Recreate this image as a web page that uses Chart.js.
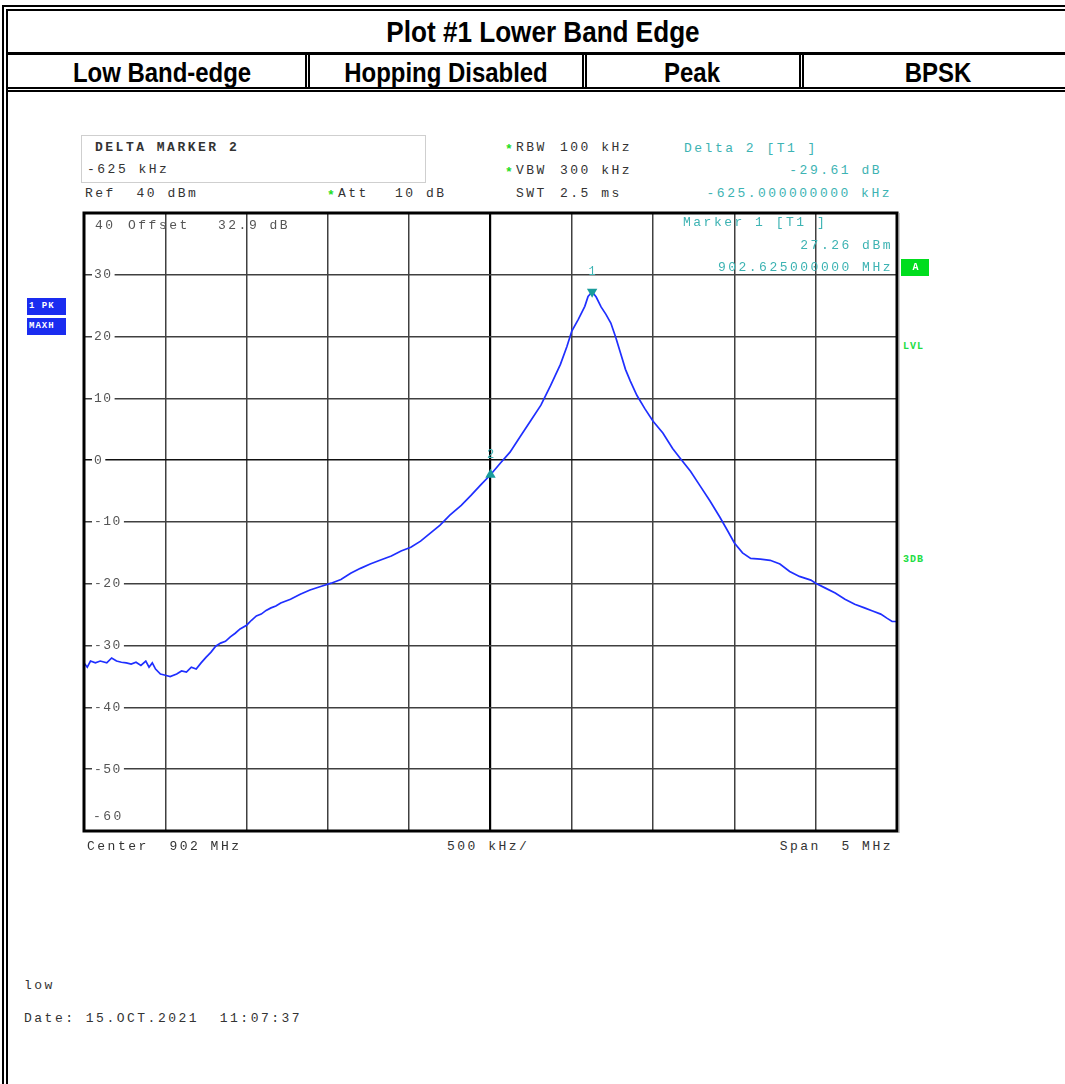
<!DOCTYPE html>
<html lang="en">
<head>
<meta charset="UTF-8" />
<title>Plot #1 Lower Band Edge</title>
<script src="https://cdn.jsdelivr.net/npm/chart.js"></script>
<style>
  * { box-sizing: border-box; }
  body {
    margin: 0;
    width: 1065px;
    height: 1084px;
    overflow: hidden;
    position: relative;
    background: #fff;
    font-family: "Liberation Mono", monospace;
  }
  .frame {
    position: absolute;
    left: 2px;
    top: 5px;
    width: 1100px;
    height: 1100px;
    border-left: 6px double #000;
    border-top: 6px double #000;
  }
  .hline { position: absolute; left: 8px; width: 1070px; }
  .vsep { position: absolute; top: 55px; height: 33px; width: 5px; border-left: 5px double #000; }
  .hd {
    position: absolute;
    font-family: "Liberation Sans", Arial, sans-serif;
    font-weight: bold;
    color: #000;
    text-align: center;
    white-space: nowrap;
    width: 400px;
    transform-origin: center;
  }
  .t {
    position: absolute;
    font-size: 13px;
    line-height: 14px;
    letter-spacing: 2.5px;
    color: #333;
    white-space: pre;
  }
  .b { font-weight: bold; }
  .teal { color: #3db3b3; }
  .star { color: #22dd22; font-weight: bold; }
  .grey { color: #555; }
  .green { color: #22dd44; font-weight: bold; font-size: 10px; letter-spacing: 1px; }
  .tag {
    position: absolute;
    color: #fff;
    font-weight: bold;
    font-size: 9px;
    line-height: 17px;
    letter-spacing: 1px;
    padding-left: 2px;
    white-space: pre;
  }
  .box {
    position: absolute;
    left: 81px;
    top: 135px;
    width: 345px;
    height: 48px;
    border: 1px solid #cfcfcf;
  }
  .plot {
    position: absolute;
    left: 78px;
    top: 207px;
    width: 825px;
    height: 630px;
  }
</style>
</head>
<body>
  <div class="frame"></div>
  <div class="hd" style="left: 343px; top: 12px; font-size: 30px; line-height: 40px; transform: scaleX(0.87)">Plot #1 Lower Band Edge</div>
  <div class="hline" style="top: 52px; height: 3px; background: #000"></div>
  <div class="hd" style="left: -38px; top: 55px; font-size: 28px; line-height: 35px; transform: scaleX(0.855)">Low Band-edge</div>
  <div class="hd" style="left: 246px; top: 55px; font-size: 28px; line-height: 35px; transform: scaleX(0.855)">Hopping Disabled</div>
  <div class="hd" style="left: 492px; top: 55px; font-size: 28px; line-height: 35px; transform: scaleX(0.855)">Peak</div>
  <div class="hd" style="left: 738px; top: 55px; font-size: 28px; line-height: 35px; transform: scaleX(0.855)">BPSK</div>
  <div class="vsep" style="left: 305px"></div>
  <div class="vsep" style="left: 582px"></div>
  <div class="vsep" style="left: 799px"></div>
  <div class="hline" style="top: 87px; height: 5px; border-top: 5px double #000"></div>

  <div class="box"></div>
  <div class="t b" style="left: 95px; top: 141px">DELTA MARKER 2</div>
  <div class="t" style="left: 87px; top: 163px">-625 kHz</div>
  <div class="t" style="left: 85px; top: 187px">Ref  40 dBm</div>
  <div class="t star" style="left: 327px; top: 189px">*</div>
  <div class="t" style="left: 338px; top: 187px">Att</div>
  <div class="t" style="left: 395px; top: 187px">10 dB</div>
  <div class="t star" style="left: 505px; top: 143px">*</div>
  <div class="t" style="left: 516px; top: 141px">RBW</div>
  <div class="t" style="left: 560px; top: 141px">100 kHz</div>
  <div class="t star" style="left: 505px; top: 166px">*</div>
  <div class="t" style="left: 516px; top: 164px">VBW</div>
  <div class="t" style="left: 560px; top: 164px">300 kHz</div>
  <div class="t" style="left: 516px; top: 187px">SWT</div>
  <div class="t" style="left: 560px; top: 187px">2.5 ms</div>

  <div class="t teal" style="left: 684px; top: 142px">Delta 2 [T1 ]</div>
  <div class="t teal" style="right: 183px; top: 164px">-29.61 dB</div>
  <div class="t teal" style="right: 173px; top: 187px">-625.000000000 kHz</div>

  <div class="plot"><canvas id="spectrum"></canvas></div>

  <div class="t grey" style="left: 95px; top: 219px">40</div>
  <div class="t grey" style="left: 128px; top: 219px">Offset</div>
  <div class="t grey" style="left: 218px; top: 219px">32.9 dB</div>
  <div class="t grey" style="left: 93px; top: 810px">-60</div>
  <div class="t teal" style="left: 683px; top: 216px">Marker 1 [T1 ]</div>
  <div class="t teal" style="right: 172px; top: 239px">27.26 dBm</div>
  <div class="t teal" style="right: 172px; top: 261px">902.625000000 MHz</div>

  <div class="tag" style="left: 901px; top: 259px; width: 28px; height: 17px; background: #00dd1e; text-align: center; font-size: 10px">A</div>
  <div class="tag" style="left: 27px; top: 298px; width: 39px; height: 17px; background: #1a2cf0">1 PK</div>
  <div class="tag" style="left: 27px; top: 318px; width: 39px; height: 17px; background: #1a2cf0">MAXH</div>
  <div class="t green" style="left: 903px; top: 340px">LVL</div>
  <div class="t green" style="left: 903px; top: 553px">3DB</div>

  <div class="t" style="left: 87px; top: 840px">Center  902 MHz</div>
  <div class="t" style="left: 447px; top: 840px">500 kHz/</div>
  <div class="t" style="right: 172px; top: 840px">Span  5 MHz</div>

  <div class="t" style="left: 24px; top: 979px">low</div>
  <div class="t" style="left: 24px; top: 1012px">Date: 15.OCT.2021  11:07:37</div>

  <script>
    // trace 1, max hold, MHz / dBm
    const traceFreq = [
      899.5, 899.52, 899.54, 899.57, 899.6, 899.64, 899.67, 899.7, 899.73, 899.76,
      899.79, 899.82, 899.85, 899.88, 899.9, 899.92, 899.94, 899.97, 900.0, 900.03,
      900.07, 900.1, 900.13, 900.16, 900.19, 900.22, 900.25, 900.28, 900.31, 900.34,
      900.37, 900.4, 900.43, 900.46, 900.5, 900.53, 900.56, 900.59, 900.62, 900.65,
      900.68, 900.71, 900.77, 900.83, 900.89, 900.96, 901.02, 901.08, 901.14, 901.2,
      901.26, 901.32, 901.39, 901.45, 901.51, 901.57, 901.63, 901.69, 901.75, 901.82,
      901.88, 901.94, 902.0, 902.06, 902.12, 902.18, 902.25, 902.31, 902.37, 902.43,
      902.47, 902.5, 902.54, 902.58, 902.6, 902.625, 902.65, 902.68, 902.71, 902.74,
      902.77, 902.8, 902.83, 902.86, 902.9, 902.95, 903.0, 903.06, 903.12, 903.17,
      903.23, 903.29, 903.35, 903.41, 903.46, 903.5, 903.55, 903.6, 903.66, 903.72,
      903.78, 903.84, 903.9, 903.97, 904.0, 904.06, 904.12, 904.18, 904.24, 904.3,
      904.35, 904.4, 904.44, 904.47, 904.5,
    ];
    const traceLevel = [
      -32.8, -33.5, -32.5, -32.8, -32.5, -32.8, -32.0, -32.5, -32.7, -32.8,
      -33.0, -32.7, -33.2, -32.5, -33.5, -32.8, -33.8, -34.6, -34.8, -35.0,
      -34.6, -34.1, -34.3, -33.5, -33.8, -32.8, -31.9, -31.1, -30.1, -29.6,
      -29.3, -28.6, -28.0, -27.3, -26.7, -25.9, -25.2, -24.9, -24.3, -23.9,
      -23.6, -23.1, -22.5, -21.7, -21.0, -20.4, -19.9, -19.3, -18.3, -17.5,
      -16.8, -16.2, -15.5, -14.7, -14.1, -13.1, -11.8, -10.5, -8.9, -7.3,
      -5.7, -4.0, -2.35, -0.5, 1.3, 3.7, 6.5, 8.9, 12.1, 15.5,
      18.4, 20.9, 22.8, 24.9, 26.5, 27.26, 26.4, 24.8, 23.6, 22.2,
      19.9, 17.3, 14.7, 12.8, 10.5, 8.3, 6.3, 4.4, 1.9, 0.2,
      -1.8, -4.2, -6.6, -9.2, -11.5, -13.4, -15.0, -15.9, -16.0, -16.2,
      -16.8, -18.0, -18.8, -19.4, -19.9, -20.7, -21.5, -22.5, -23.3, -23.9,
      -24.4, -24.9, -25.6, -26.1, -26.1,
    ];

    // marker 1 (peak) and delta marker 2
    const markerFreq = [902.625, 902.0];
    const markerLevel = [27.26, -2.35];
    const markerLabels = ["1", "2"];

    // axis: 10 dB/div, 500 kHz/div
    const yMin = -60;
    const yMax = 40;
    const fStart = 899.5;
    const fStop = 904.5;
    const centerFreq = 902;

    const gridColor = "#404040";
    const teal = "#1a9c9c";

    const spacing = {
      id: "spacing",
      beforeUpdate(chart) {
        chart.ctx.letterSpacing = "1.5px";
      },
      beforeDraw(chart) {
        chart.ctx.letterSpacing = "1.5px";
      },
    };

    const frame = {
      id: "frame",
      afterDraw(chart) {
        const { ctx } = chart;
        const { left, top, right, bottom } = chart.chartArea;
        ctx.save();
        ctx.strokeStyle = "#000";
        ctx.lineWidth = 3;
        ctx.strokeRect(left, top, right - left, bottom - top);
        ctx.strokeStyle = "#9a9a9a";
        ctx.lineWidth = 1;
        ctx.beginPath();
        ctx.moveTo(right + 2, top);
        ctx.lineTo(right + 2, bottom + 2);
        ctx.stroke();
        ctx.restore();
      },
    };

    const markerText = {
      id: "markerText",
      afterDatasetsDraw(chart) {
        const { ctx } = chart;
        const xs = chart.scales.x;
        const ys = chart.scales.y;
        ctx.save();
        ctx.letterSpacing = "0px";
        ctx.fillStyle = "#3db3b3";
        ctx.font = "12px 'Liberation Mono'";
        ctx.textAlign = "center";
        ctx.textBaseline = "middle";
        markerLabels.forEach((lbl, i) => {
          const x = xs.getPixelForValue(markerFreq[i]);
          const y = ys.getPixelForValue(markerLevel[i]);
          ctx.fillText(lbl, x, y - 20);
        });
        ctx.restore();
      },
    };

    const isCenter = (c) => c.tick && c.tick.value === centerFreq;

    const noRoom = (s) => {
      if (s.isHorizontal()) s.height = 0;
      else s.width = 0;
      s.paddingTop = 0;
      s.paddingBottom = 0;
      s.paddingLeft = 0;
      s.paddingRight = 0;
    };

    new Chart(document.getElementById("spectrum"), {
      type: "line",
      data: {
        datasets: [
          {
            label: "Trace 1",
            data: traceFreq.map((f, i) => ({ x: f, y: traceLevel[i] })),
            borderColor: "#1f2fff",
            borderWidth: 1.7,
            pointRadius: 0,
            tension: 0,
            order: 2,
          },
          {
            label: "Markers",
            data: markerFreq.map((f, i) => ({ x: f, y: markerLevel[i] })),
            showLine: false,
            pointStyle: "triangle",
            pointRotation: [180, 0],
            pointRadius: 6,
            backgroundColor: teal,
            borderColor: teal,
            borderWidth: 0,
            order: 1,
          },
        ],
      },
      options: {
        responsive: true,
        maintainAspectRatio: false,
        animation: false,
        layout: { padding: 3 },
        plugins: {
          legend: { display: false },
          tooltip: { enabled: false },
        },
        scales: {
          x: {
            type: "linear",
            min: fStart,
            max: fStop,
            afterFit: noRoom,
            ticks: { display: false, stepSize: 0.5 },
            grid: {
              drawTicks: false,
              color: (c) => (isCenter(c) ? "#000" : gridColor),
              lineWidth: (c) => (isCenter(c) ? 2.2 : 1.5),
            },
            border: { display: false },
          },
          y: {
            min: yMin,
            max: yMax,
            afterFit: noRoom,
            afterBuildTicks: (s) => {
              s.ticks = s.ticks.filter((t) => t.value > yMin && t.value < yMax);
            },
            ticks: {
              stepSize: 10,
              mirror: true,
              padding: 10,
              color: "#555",
              font: { family: "Liberation Mono", size: 13 },
              showLabelBackdrop: true,
              backdropColor: "#fff",
              backdropPadding: { x: 2, y: 0 },
            },
            grid: {
              drawTicks: false,
              color: (c) => (c.tick && c.tick.value === 0 ? "#111" : gridColor),
              lineWidth: 1.5,
            },
            border: { display: false },
          },
        },
      },
      plugins: [spacing, frame, markerText],
    });
  </script>
</body>
</html>
